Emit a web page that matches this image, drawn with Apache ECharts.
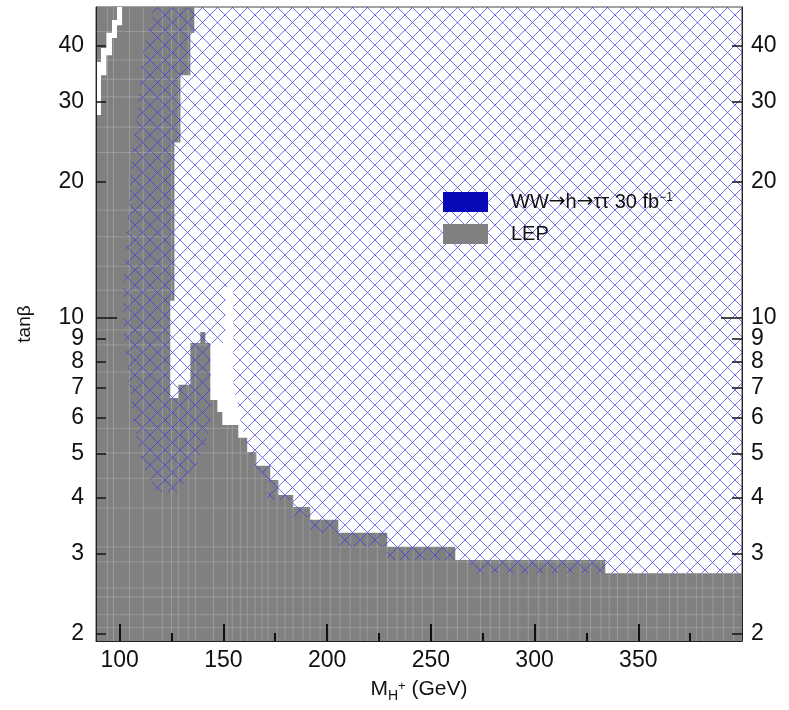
<!DOCTYPE html>
<html><head><meta charset="utf-8">
<script src="https://cdn.jsdelivr.net/npm/echarts@6/dist/echarts.min.js"></script>
<style>html,body{margin:0;padding:0;background:#fff}#c{width:789px;height:710px}</style>
</head><body><div id="c"></div>
<script>
// ---- axis ranges and ticks ----
const massRange = [88.6, 400];
const tanRange = [1.925, 48.7];
const massMajorTicks = [100, 150, 200, 250, 300, 350];
const massMinorTicks = [125, 175, 225, 275, 325, 375];
const tanTicks = [2, 3, 4, 5, 6, 7, 8, 9, 10, 20, 30, 40];
const tanLongTicks = [10];

// ---- LEP excluded region (outline) ----
const lepMass = [88.6, 88.6, 136.0, 136.0, 134.1, 134.1, 129.3, 129.3, 126.4, 126.4, 124.4, 124.4, 128.3, 128.3, 134.1, 134.1, 138.9, 138.9, 141.3, 141.3, 143.7, 143.7, 147.1, 147.1, 149.5, 149.5, 157.2, 157.2, 161.5, 161.5, 165.9, 165.9, 172.6, 172.6, 176.5, 176.5, 183.7, 183.7, 191.9, 191.9, 205.4, 205.4, 229.0, 229.0, 261.8, 261.8, 334.1, 334.1, 400, 400];
const lepTan = [1.925, 48.7, 48.7, 42.7, 42.7, 34.4, 34.4, 24.4, 24.4, 10.9, 10.9, 6.64, 6.64, 7.10, 7.10, 8.79, 8.79, 9.30, 9.30, 8.79, 8.79, 6.57, 6.57, 6.18, 6.18, 5.79, 5.79, 5.42, 5.42, 5.04, 5.04, 4.70, 4.70, 4.37, 4.37, 4.05, 4.05, 3.81, 3.81, 3.57, 3.57, 3.34, 3.34, 3.11, 3.11, 2.91, 2.91, 2.72, 2.72, 1.925];

// ---- allowed strip inside LEP region (top-left) ----
const gapMass = [88.6, 88.6, 91.0, 91.0, 93.6, 93.6, 96.3, 96.3, 98.7, 98.7, 101.2, 101.2, 98.7, 98.7, 96.3, 96.3, 93.6, 93.6, 91.0, 91.0];
const gapTan = [28.1, 36.8, 36.8, 39.5, 39.5, 42.7, 42.7, 45.6, 45.6, 48.7, 48.7, 44.4, 44.4, 41.6, 41.6, 38.1, 38.1, 34.4, 34.4, 28.1];

// ---- WW -> h -> tautau 30 fb-1 discovery region (outline) ----
const wwMass = [116.2, 400, 400, 269.0, 269.0, 229.0, 229.0, 205.4, 205.4, 191.9, 191.9, 183.7, 183.7, 171.2, 171.2, 166.4, 163.0, 160.6, 158.2, 156.7, 154.8, 154.8, 151.9, 150.9, 150.9, 143.7, 143.7, 141.3, 137.4, 132.6, 127.8, 117.2, 115.8, 111.4, 109.0, 106.6, 105.2, 101.8, 101.8, 104.2, 106.1, 107.6, 111.4, 113.8];
const wwTan = [48.7, 48.7, 2.72, 2.72, 2.91, 2.91, 3.11, 3.11, 3.34, 3.34, 3.62, 3.62, 3.95, 3.95, 4.37, 4.60, 4.97, 5.36, 5.94, 6.57, 6.92, 11.9, 11.9, 10.9, 8.79, 8.79, 5.94, 5.23, 4.77, 4.44, 4.11, 4.11, 4.31, 4.67, 5.17, 5.94, 6.81, 9.39, 11.5, 17.3, 23.5, 26.0, 39.1, 42.7];

// ---- histogram bin edges (faint lines in the grey cells) ----
const binMass = [94.1, 97.0, 104.7, 111.4, 120.6, 125, 128.3, 133.1, 136.5, 145.2, 151.9, 154.3, 158.2, 161.5, 165.3, 168.6, 171.5, 175.9, 179.7, 183.6, 188.4, 191.8, 196.6, 201.5, 206.3, 211.1, 215.9, 219.3, 224.2, 229.0, 233.8, 237.7, 241.5, 245.9, 251.2, 257.9, 262.8, 267.6, 273.9, 278.7, 283, 288, 292, 297, 302, 306, 311, 316, 322, 327, 332, 336, 340, 345, 350, 354, 359, 365, 369, 373, 378, 381, 386, 391, 396];
const binTan = [2.06, 2.20, 2.41, 2.52, 2.88, 3.11, 3.79, 4.41, 5.02, 5.69, 7.58, 8.70, 9.39, 11.5, 13.0, 15.1, 17.3, 23.2, 26.4, 30.8, 33.7, 37.2, 43.0];

const wwName = 'WW→h→ττ 30 fb⁻¹';
const lepName = 'LEP';

const L = Math.log10;
const FONT = 'Liberation Sans, Arial, Helvetica, sans-serif';

function makeHatch(p) {
  const c = document.createElement('canvas');
  c.width = p; c.height = p;
  const g = c.getContext('2d');
  g.strokeStyle = 'rgba(60,60,230,0.72)';
  g.lineWidth = 1;
  g.beginPath(); g.moveTo(-1, -1); g.lineTo(p + 1, p + 1); g.stroke();
  g.beginPath(); g.moveTo(p + 1, -1); g.lineTo(-1, p + 1); g.stroke();
  return c;
}
const hatch = makeHatch(15);

function polySeries(name, xs, ts, style, z) {
  return {
    type: 'custom', name: name, z: z, silent: true, clip: true,
    xAxisIndex: 0, yAxisIndex: 0,
    itemStyle: { color: style.legendColor },
    data: [[xs[0], L(ts[0])]],
    renderItem: function (params, api) {
      const pts = xs.map((x, i) => api.coord([x, L(ts[i])]));
      return { type: 'polygon', shape: { points: pts }, style: { fill: style.fill, stroke: null } };
    }
  };
}

const lineColor = 'rgba(255,255,255,0.2)';
const binSeriesV = {
  type: 'custom', z: 3, silent: true, clip: true, xAxisIndex: 0, yAxisIndex: 0,
  data: binMass.map(m => [m]),
  renderItem: function (params, api) {
    const m = api.value(0);
    const a = api.coord([m, L(tanRange[0])]);
    const b = api.coord([m, L(tanRange[1])]);
    return { type: 'line', shape: { x1: a[0], y1: a[1], x2: b[0], y2: b[1] }, style: { stroke: lineColor, lineWidth: 1 } };
  }
};
const binSeriesH = {
  type: 'custom', z: 3, silent: true, clip: true, xAxisIndex: 0, yAxisIndex: 0,
  data: binTan.map(t => [massRange[0], L(t)]),
  renderItem: function (params, api) {
    const v = api.value(1);
    const a = api.coord([massRange[0], v]);
    const b = api.coord([massRange[1], v]);
    return { type: 'line', shape: { x1: a[0], y1: a[1], x2: b[0], y2: b[1] }, style: { stroke: lineColor, lineWidth: 1 } };
  }
};

const yMin = L(tanRange[0]), yMax = L(tanRange[1]);
const tanTickVals = tanTicks.map(L);
const longTickVals = tanLongTicks.map(L);
const fmt = v => String(Math.round(Math.pow(10, v)));
const axisCol = '#222';

function yAx(pos, vals, len, labels) {
  return {
    type: 'value', position: pos, min: yMin, max: yMax, z: 10,
    axisLine: { show: labels, lineStyle: { color: axisCol, width: 1 } },
    splitLine: { show: false },
    axisTick: { show: true, inside: true, length: len, customValues: vals, lineStyle: { color: '#111', width: 1.5 } },
    axisLabel: labels ? { show: true, customValues: vals, formatter: fmt, fontSize: 23, fontFamily: FONT, color: '#111', margin: pos === 'left' ? 12 : 9 } : { show: false }
  };
}

const option = {
  animation: false,
  backgroundColor: '#fff',
  grid: { left: 96, right: 47, top: 7, bottom: 69, show: true, borderColor: '#444', borderWidth: 1, backgroundColor: 'transparent' },
  legend: {
    orient: 'vertical', left: 438, top: 187, itemWidth: 45, itemGap: 12, itemHeight: 20, z: 20,
    selectedMode: false,
    formatter: function (n) {
      return n === wwName ? '{t|WW}{ar|→}{t|h}{ar|→}{t|ττ 30 fb}{sup|−1}' : '{t|' + n + '}';
    },
    textStyle: {
      fontSize: 20, fontFamily: FONT, color: '#111', padding: [0, 0, 0, 18],
      rich: {
        t: { fontSize: 20, fontFamily: FONT, color: '#111' },
        ar: { fontSize: 20, fontFamily: 'DejaVu Sans', color: '#111' },
        sup: { fontSize: 12, fontFamily: FONT, color: '#111', verticalAlign: 'top' }
      }
    },
    data: [
      { name: wwName, icon: 'rect', itemStyle: { color: '#0808b8' } },
      { name: lepName, icon: 'rect', itemStyle: { color: '#808080' } }
    ]
  },
  xAxis: [
    {
      type: 'value', position: 'bottom', min: massRange[0], max: massRange[1], z: 10,
      axisLine: { show: true, lineStyle: { color: axisCol, width: 1 } },
      splitLine: { show: false },
      axisTick: { show: true, inside: true, length: 17, customValues: massMajorTicks, lineStyle: { color: '#111', width: 2 } },
      axisLabel: { show: true, customValues: massMajorTicks, fontSize: 23, fontFamily: FONT, color: '#111', margin: 8 },
      name: '{a|M}{b|H}{c|+}{a| (GeV)}', nameLocation: 'middle', nameGap: 34,
      nameTextStyle: {
        color: '#111', fontFamily: FONT,
        rich: {
          a: { fontSize: 21, fontFamily: FONT, color: '#111', lineHeight: 28 },
          b: { fontSize: 14, fontFamily: FONT, color: '#111', verticalAlign: 'bottom' },
          c: { fontSize: 13, fontFamily: FONT, color: '#111', verticalAlign: 'top', padding: [5, 0, 0, 0] }
        }
      }
    },
    {
      type: 'value', position: 'bottom', min: massRange[0], max: massRange[1], z: 10,
      axisLine: { show: false }, splitLine: { show: false },
      axisTick: { show: true, inside: true, length: 8, customValues: massMinorTicks, lineStyle: { color: '#111', width: 2 } },
      axisLabel: { show: false }
    }
  ],
  yAxis: [
    Object.assign(yAx('left', tanTickVals, 10, true), {
      name: 'tanβ', nameLocation: 'middle', nameGap: 62, nameRotate: 90,
      nameTextStyle: { fontSize: 19, fontFamily: FONT, color: '#111' }
    }),
    yAx('left', longTickVals, 21, false),
    yAx('right', tanTickVals, 10, true),
    yAx('right', longTickVals, 21, false)
  ],
  series: [
    polySeries(lepName, lepMass, lepTan, { fill: '#808080', legendColor: '#808080' }, 1),
    polySeries('gap', gapMass, gapTan, { fill: '#ffffff', legendColor: '#ffffff' }, 2),
    binSeriesV,
    binSeriesH,
    polySeries(wwName, wwMass, wwTan, { fill: { image: hatch, repeat: 'repeat' }, legendColor: '#0808b8' }, 4)
  ]
};

const chart = echarts.init(document.getElementById('c'), null, { renderer: 'canvas' });
chart.setOption(option);
</script>
</body></html>
